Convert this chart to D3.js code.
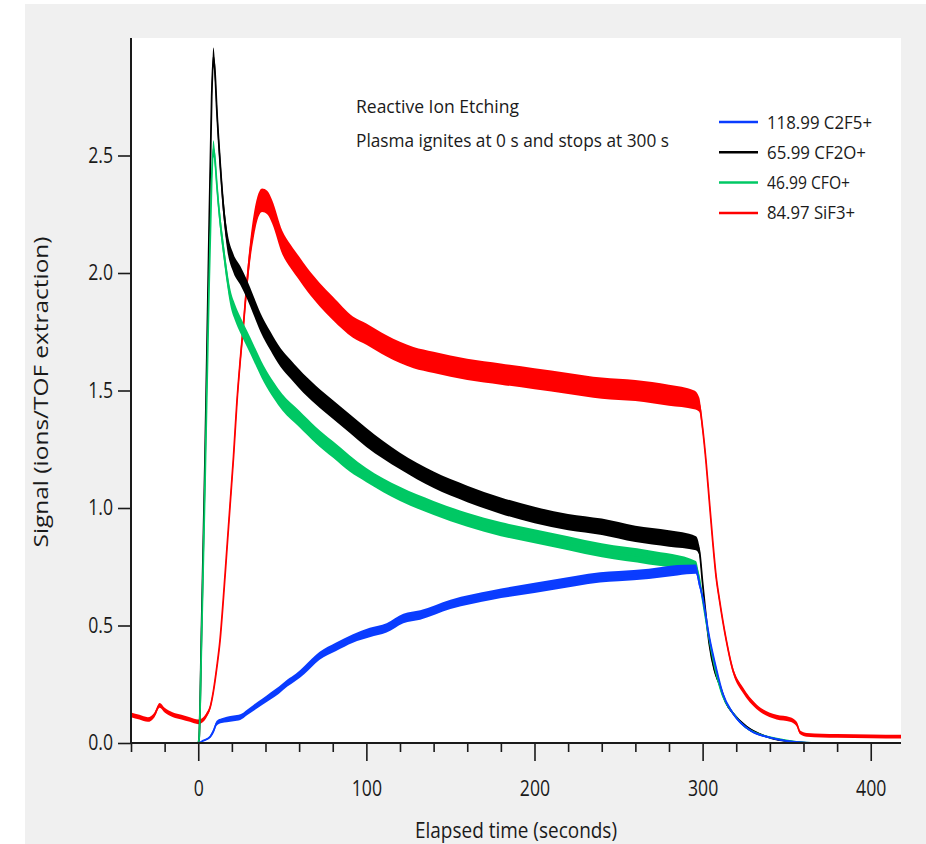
<!DOCTYPE html>
<html>
<head>
<meta charset="utf-8">
<script src="https://cdn.jsdelivr.net/npm/d3@7"></script>
<style>
  html, body { margin: 0; padding: 0; background: #ffffff; }
  svg { display: block; }
  text { font-family: "Open Sans", "Noto Sans", sans-serif; fill: #1a1a1a; }
</style>
</head>
<body>
<svg id="chart" width="926" height="844"></svg>
<script>
// ---------------- DATA ----------------
// each row: [elapsed time (s), signal, half-width of the noise band]
const seriesNames = ["118.99 C2F5+", "65.99 CF2O+", "46.99 CFO+", "84.97 SiF3+"];
const seriesColors = ["#0a3cff", "#000000", "#00c864", "#ff0000"];

const c2f5 = [
  [-40,0,0.002],[0,0,0.002],[3,0.01,0.003],[7,0.026,0.005],[9,0.05,0.008],[11,0.085,0.01],
  [14,0.095,0.01],[17,0.10,0.012],[21,0.105,0.012],[25,0.11,0.012],[29,0.13,0.012],
  [33,0.15,0.013],[38,0.175,0.013],[43,0.20,0.015],[48,0.225,0.015],[53,0.255,0.015],
  [58,0.28,0.015],[63,0.31,0.017],[72,0.37,0.017],[82,0.41,0.018],[92,0.445,0.018],
  [102,0.47,0.02],[112,0.49,0.02],[122,0.53,0.02],[132,0.545,0.02],[150,0.59,0.02],
  [175,0.63,0.02],[200,0.66,0.022],[225,0.69,0.022],[239,0.705,0.022],[250,0.71,0.022],
  [268,0.72,0.022],[285,0.735,0.022],[296,0.74,0.02],[298,0.68,0.015],[300,0.62,0.01],
  [304,0.45,0.008],[308,0.32,0.007],[312,0.21,0.006],[318,0.127,0.005],[328,0.055,0.004],
  [342,0.02,0.003],[358,0.003,0.002],[370,0,0.002],[418,0,0.002]
];

const cf2o = [
  [-40,0,0.001],[0,0,0.001],[0.5,0.02,0.002],[2,0.5,0.01],[4,1.2,0.02],[6,2.0,0.03],
  [8,2.75,0.04],[9,2.92,0.04],[10,2.85,0.04],[11,2.70,0.04],[13,2.47,0.04],[15,2.28,0.04],
  [17,2.15,0.04],[21,2.04,0.04],[25,1.99,0.04],[29,1.93,0.04],[33,1.86,0.04],[37,1.79,0.04],
  [43,1.71,0.04],[49,1.64,0.04],[55,1.59,0.04],[60,1.55,0.04],[70,1.48,0.04],[80,1.42,0.04],
  [90,1.36,0.04],[100,1.30,0.04],[120,1.20,0.035],[140,1.12,0.035],[160,1.06,0.035],
  [180,1.01,0.035],[200,0.97,0.035],[220,0.94,0.035],[240,0.92,0.035],[260,0.89,0.035],
  [280,0.87,0.035],[296,0.85,0.03],[298,0.82,0.02],[300,0.68,0.01],[302,0.54,0.01],
  [304,0.42,0.01],[307,0.31,0.008],[310,0.25,0.008],[314,0.17,0.006],[318,0.127,0.005],
  [326,0.07,0.004],[338,0.027,0.003],[354,0.005,0.002],[370,0,0.001],[418,0,0.001]
];

const cfo = [
  [-40,0,0.001],[0,0,0.001],[0.5,0.02,0.002],[2,0.45,0.01],[4,1.1,0.02],[6,1.8,0.03],
  [8,2.4,0.035],[9,2.53,0.035],[10,2.48,0.035],[11,2.38,0.035],[13,2.22,0.035],[15,2.10,0.035],
  [17,1.99,0.035],[19,1.90,0.035],[22,1.83,0.035],[25,1.78,0.035],[29,1.72,0.035],
  [33,1.66,0.035],[39,1.57,0.035],[45,1.50,0.035],[50,1.45,0.035],[60,1.38,0.035],
  [70,1.31,0.035],[80,1.25,0.035],[90,1.19,0.035],[100,1.14,0.03],[120,1.06,0.03],
  [140,1.00,0.03],[160,0.95,0.03],[180,0.91,0.03],[200,0.88,0.03],[220,0.85,0.03],
  [240,0.82,0.03],[268,0.79,0.03],[296,0.75,0.025],[298,0.70,0.015],[300,0.61,0.01],
  [304,0.44,0.01],[308,0.30,0.008],[312,0.20,0.006],[318,0.128,0.005],[328,0.055,0.004],
  [348,0.013,0.002],[365,0,0.001],[418,0,0.001]
];

const sif3 = [
  [-40,0.12,0.01],[-35,0.11,0.01],[-30,0.10,0.01],[-26,0.12,0.01],[-23,0.16,0.01],
  [-20,0.14,0.01],[-15,0.12,0.01],[-10,0.11,0.01],[-5,0.10,0.01],[0,0.09,0.01],[3,0.10,0.01],
  [5,0.12,0.01],[7,0.15,0.01],[9,0.22,0.01],[11,0.32,0.01],[13,0.44,0.01],[15,0.62,0.012],
  [17,0.82,0.015],[19,1.02,0.02],[21,1.22,0.02],[23,1.45,0.025],[25,1.63,0.03],[27,1.79,0.035],
  [29,1.96,0.04],[31,2.10,0.045],[33,2.20,0.05],[35,2.27,0.05],[38,2.31,0.05],[41,2.30,0.05],
  [44,2.26,0.05],[50,2.13,0.05],[55,2.07,0.05],[60,2.02,0.05],[65,1.97,0.05],[72,1.91,0.05],
  [80,1.85,0.05],[92,1.77,0.045],[100,1.74,0.045],[112,1.69,0.045],[128,1.64,0.045],
  [140,1.62,0.045],[160,1.59,0.045],[180,1.57,0.045],[200,1.55,0.045],[220,1.53,0.045],
  [240,1.51,0.045],[260,1.50,0.045],[280,1.48,0.045],[295,1.46,0.04],[298,1.44,0.03],
  [300,1.34,0.02],[302,1.20,0.015],[304,1.03,0.015],[306,0.86,0.015],[308,0.71,0.015],
  [310,0.61,0.012],[314,0.44,0.012],[318,0.31,0.012],[324,0.225,0.012],[332,0.155,0.01],
  [344,0.11,0.01],[352,0.10,0.01],[356,0.08,0.01],[358,0.045,0.008],[362,0.035,0.008],
  [380,0.03,0.008],[400,0.028,0.008],[418,0.027,0.008]
];

const xMajorTicks = [0, 100, 200, 300, 400];
const xMinorTicks = [-40,-20,20,40,60,80,120,140,160,180,220,240,260,280,320,340,360,380];
const yTicks = [0.0, 0.5, 1.0, 1.5, 2.0, 2.5];
const xLabel = "Elapsed time (seconds)";
const yLabel = "Signal (ions/TOF extraction)";
const noteLines = ["Reactive Ion Etching", "Plasma ignites at 0 s and stops at 300 s"];

// ---------------- LAYOUT ----------------
const svg = d3.select("#chart");
const plot = {left: 131, right: 901, top: 38, bottom: 743};

svg.append("rect").attr("x", 25).attr("y", 4).attr("width", 901).attr("height", 840).attr("fill", "#f0f0f0");
svg.append("rect").attr("x", plot.left).attr("y", plot.top)
  .attr("width", plot.right - plot.left).attr("height", plot.bottom - plot.top).attr("fill", "#ffffff");

const x = d3.scaleLinear().domain([-40, 418]).range([plot.left, plot.right]);
const y = d3.scaleLinear().domain([0, 3]).range([plot.bottom, plot.top]);

svg.append("clipPath").attr("id", "clip").append("rect")
  .attr("x", plot.left).attr("y", plot.top)
  .attr("width", plot.right - plot.left).attr("height", plot.bottom - plot.top);

// ---------------- SERIES ----------------
const drawOrder = [3, 1, 2, 0];
const allSeries = [c2f5, cf2o, cfo, sif3];
const g = svg.append("g").attr("clip-path", "url(#clip)");
const area = d3.area().curve(d3.curveMonotoneX)
  .x(d => x(d[0])).y0(d => y(d[1] - d[2])).y1(d => y(d[1] + d[2]));
const line = d3.line().curve(d3.curveMonotoneX).x(d => x(d[0])).y(d => y(d[1]));
drawOrder.forEach(i => {
  g.append("path").datum(allSeries[i]).attr("d", area).attr("fill", seriesColors[i]);
  g.append("path").datum(allSeries[i]).attr("d", line)
    .attr("fill", "none").attr("stroke", seriesColors[i]).attr("stroke-width", 1.8)
    .attr("stroke-linejoin", "round");
});

// ---------------- AXES ----------------
const xAxisMinor = d3.axisBottom(x).tickValues(xMinorTicks).tickSize(9).tickFormat("");
const xAxisMajor = d3.axisBottom(x).tickValues(xMajorTicks).tickSize(18).tickPadding(20).tickFormat(d3.format("d"));
const gx1 = svg.append("g").attr("transform", `translate(0,${plot.bottom})`).call(xAxisMinor);
const gx2 = svg.append("g").attr("transform", `translate(0,${plot.bottom})`).call(xAxisMajor);
[gx1, gx2].forEach(s => {
  s.select(".domain").remove();
  s.selectAll(".tick line").attr("stroke", "#1a1a1a").attr("stroke-width", 1.6);
});
gx2.selectAll(".tick text").attr("font-size", 21).attr("fill", "#1a1a1a")
  .style("font-family", '"Open Sans", sans-serif');

const yAxis = d3.axisLeft(y).tickValues(yTicks).tickSize(13).tickPadding(5).tickFormat(d3.format(".1f"));
const gy = svg.append("g").attr("transform", `translate(${plot.left},0)`).call(yAxis);
gy.select(".domain").remove();
gy.selectAll(".tick line").attr("stroke", "#1a1a1a").attr("stroke-width", 1.6);
gy.selectAll(".tick text").attr("font-size", 21).attr("fill", "#1a1a1a")
  .style("font-family", '"Open Sans", sans-serif');

// axis lines
svg.append("line").attr("x1", plot.left).attr("x2", plot.right).attr("y1", plot.bottom).attr("y2", plot.bottom)
  .attr("stroke", "#1a1a1a").attr("stroke-width", 2);
svg.append("line").attr("x1", plot.left).attr("x2", plot.left).attr("y1", plot.top).attr("y2", plot.bottom + 1)
  .attr("stroke", "#1a1a1a").attr("stroke-width", 2);

// axis titles
svg.append("text").attr("x", 516).attr("y", 838).attr("text-anchor", "middle")
  .attr("font-size", 21).attr("textLength", 202).attr("lengthAdjust", "spacingAndGlyphs").text(xLabel);
svg.append("text").attr("transform", "translate(48,392) rotate(-90)").attr("text-anchor", "middle")
  .attr("font-size", 20).attr("textLength", 311).attr("lengthAdjust", "spacingAndGlyphs").text(yLabel);

// condense tick labels (reference font is narrower)
svg.selectAll(".tick text").each(function() {
  const w = this.getComputedTextLength();
  d3.select(this).attr("textLength", w * 0.84).attr("lengthAdjust", "spacingAndGlyphs");
});

// ---------------- ANNOTATION ----------------
const noteWidths = [163, 313];
noteLines.forEach((t, i) => {
  svg.append("text").attr("x", 356).attr("y", 113 + i * 34).attr("font-size", 18)
    .attr("textLength", noteWidths[i]).attr("lengthAdjust", "spacingAndGlyphs").text(t);
});

// ---------------- LEGEND ----------------
const legendWidths = [105, 99, 83, 88];
seriesNames.forEach((name, i) => {
  const ly = 122 + i * 30.3;
  svg.append("line").attr("x1", 719).attr("x2", 758).attr("y1", ly).attr("y2", ly)
    .attr("stroke", seriesColors[i]).attr("stroke-width", 2.5);
  svg.append("text").attr("x", 767).attr("y", ly + 6.5).attr("font-size", 18)
    .attr("textLength", legendWidths[i]).attr("lengthAdjust", "spacingAndGlyphs").text(name);
});
</script>
</body>
</html>
